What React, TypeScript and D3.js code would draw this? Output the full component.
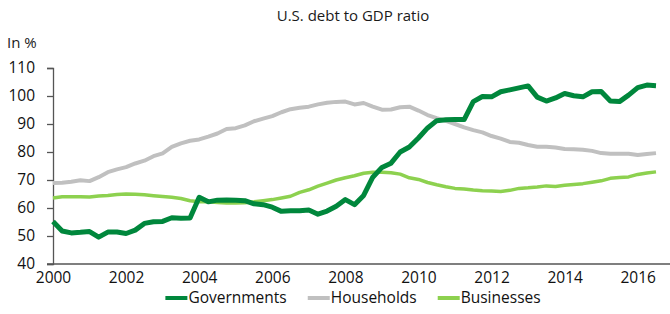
import * as d3 from "d3";
import React, { useEffect, useRef } from "react";

// quarterly observations, 2000Q1 .. 2016Q3
const startYear = 2000;
const quarters = 67;

const governments = [
  55.2, 51.8, 51.1, 51.3, 51.6, 49.6, 51.4, 51.4, 50.9, 52.1, 54.5, 55.1,
  55.2, 56.5, 56.3, 56.4, 63.8, 62.2, 62.8, 62.9, 62.8, 62.6, 61.5, 61.2,
  60.3, 58.8, 59.0, 59.0, 59.3, 57.8, 58.9, 60.6, 63.0, 61.2, 64.5, 71.0,
  74.5, 76.0, 80.0, 81.8, 85.0, 88.6, 91.2, 91.5, 91.6, 91.6, 98.0, 99.8,
  99.7, 101.5, 102.2, 102.9, 103.6, 99.6, 98.2, 99.3, 100.9, 100.1, 99.7,
  101.5, 101.6, 98.2, 98.0, 100.3, 103.0, 103.9, 103.7,
];

const households = [
  68.9, 69.0, 69.4, 69.9, 69.6, 71.0, 72.8, 73.8, 74.6, 75.9, 76.9, 78.5,
  79.5, 81.8, 83.1, 84.0, 84.5, 85.5, 86.6, 88.2, 88.5, 89.5, 91.0, 91.9,
  92.8, 94.2, 95.3, 95.8, 96.2, 97.0, 97.6, 97.9, 98.0, 97.0, 97.5, 96.2,
  95.1, 95.2, 96.0, 96.2, 94.8, 93.2, 92.1, 91.1, 90.0, 88.8, 87.8, 87.0,
  85.7, 84.8, 83.6, 83.3, 82.5, 81.9, 81.9, 81.6, 81.1, 81.0, 80.8, 80.4,
  79.6, 79.4, 79.4, 79.4, 78.9, 79.3, 79.6,
];

const businesses = [
  63.6, 64.0, 64.0, 64.0, 63.9, 64.3, 64.5, 64.8, 65.0, 64.9, 64.7, 64.4,
  64.1, 63.8, 63.4, 62.6, 62.2, 62.2, 62.0, 61.8, 61.8, 61.9, 62.2, 62.6,
  63.0, 63.6, 64.2, 65.6, 66.5, 67.8, 68.9, 70.0, 70.8, 71.5, 72.4, 72.8,
  72.8, 72.6, 72.1, 70.8, 70.2, 69.1, 68.3, 67.6, 67.0, 66.8, 66.4, 66.2,
  66.1, 65.9, 66.3, 67.0, 67.2, 67.5, 67.9, 67.7, 68.1, 68.4, 68.7, 69.2,
  69.7, 70.6, 70.9, 71.1, 72.0, 72.5, 72.9,
];

const yearTicks = [2000, 2002, 2004, 2006, 2008, 2010, 2012, 2014, 2016];
const valueTicks = [40, 50, 60, 70, 80, 90, 100, 110];

const series = [
  { name: "Governments", values: governments, color: "#00873c", width: 5 },
  { name: "Households", values: households, color: "#c0c0c0", width: 4 },
  { name: "Businesses", values: businesses, color: "#8dd14f", width: 3.5 },
];

const font = "'Open Sans', 'Noto Sans', sans-serif";

export default function App() {
  const ref = useRef<SVGSVGElement | null>(null);

  useEffect(() => {
    const svg = d3.select(ref.current);
    svg.selectAll("*").remove();

    const width = 670;
    const height = 314;
    const left = 53;

    const x = d3
      .scaleLinear()
      .domain([startYear, startYear + (quarters - 1) / 4])
      .range([left, 656]);
    const y = d3.scaleLinear().domain([40, 110]).range([264, 68]);

    svg.attr("width", width).attr("height", height);

    svg
      .append("text")
      .attr("x", 353)
      .attr("y", 21)
      .attr("text-anchor", "middle")
      .attr("font-family", font)
      .attr("font-size", 15)
      .attr("fill", "#1a1a1a")
      .text("U.S. debt to GDP ratio");

    svg
      .append("text")
      .attr("x", 7)
      .attr("y", 48)
      .attr("font-family", font)
      .attr("font-size", 15)
      .attr("fill", "#1a1a1a")
      .text("In %");

    // y axis
    const yAxis = svg
      .append("g")
      .attr("transform", `translate(${left},0)`)
      .call(d3.axisLeft(y).tickValues(valueTicks).tickSize(6).tickPadding(12));
    yAxis.select(".domain").attr("stroke", "#555").attr("stroke-width", 1.3);
    yAxis.selectAll(".tick line").attr("stroke", "#555").attr("stroke-width", 1.3);
    yAxis
      .selectAll(".tick text")
      .attr("font-family", font)
      .attr("font-size", 15.5)
      .attr("fill", "#111");

    // x axis
    const xAxis = svg
      .append("g")
      .attr("transform", `translate(0,${y(40)})`)
      .call(
        d3
          .axisBottom(x)
          .tickValues(yearTicks)
          .tickFormat(d3.format("d"))
          .tickSize(0)
          .tickPadding(8)
      );
    xAxis.select(".domain").remove();
    xAxis
      .append("line")
      .attr("x1", left - 6)
      .attr("x2", width)
      .attr("stroke", "#555")
      .attr("stroke-width", 1.3);
    xAxis
      .selectAll(".tick text")
      .attr("font-family", font)
      .attr("font-size", 15.5)
      .attr("fill", "#111");

    const line = d3
      .line<number>()
      .x((_, i) => x(startYear + i / 4))
      .y((d) => y(d));

    const drawOrder = [series[1], series[2], series[0]];
    svg
      .append("g")
      .selectAll("path")
      .data(drawOrder)
      .enter()
      .append("path")
      .attr("d", (d) => line(d.values))
      .attr("fill", "none")
      .attr("stroke", (d) => d.color)
      .attr("stroke-width", (d) => d.width)
      .attr("stroke-linejoin", "round");

    // legend, laid out by measured text widths and centred under the plot
    const legend = svg.append("g");
    const swatch = 22;
    const gap = 21;
    const items = legend.selectAll("g").data(series).enter().append("g");
    items
      .append("line")
      .attr("x1", 0)
      .attr("x2", swatch)
      .attr("stroke", (d) => d.color)
      .attr("stroke-width", 4);
    items
      .append("text")
      .attr("x", swatch + 1)
      .attr("dy", "0.35em")
      .attr("font-family", font)
      .attr("font-size", 15.5)
      .attr("fill", "#111")
      .text((d) => d.name);

    let offset = 0;
    const offsets: number[] = [];
    items.each(function () {
      offsets.push(offset);
      const t = d3.select(this).select<SVGTextElement>("text").node();
      offset += swatch + 1 + (t ? t.getComputedTextLength() : 80) + gap;
    });
    const total = offset - gap;
    items.attr("transform", (_, i) => `translate(${offsets[i]},0)`);
    legend.attr("transform", `translate(${353 - total / 2},298)`);
  }, []);

  return (
    <svg
      ref={ref}
      style={{ position: "absolute", left: 0, top: 0, display: "block", background: "#fff" }}
    />
  );
}
